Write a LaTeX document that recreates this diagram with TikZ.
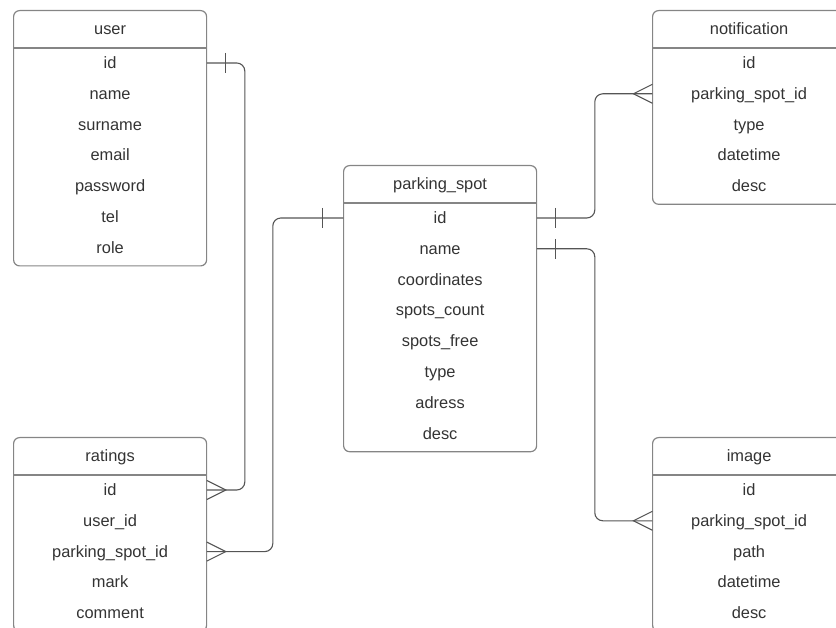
\documentclass[tikz,border=0pt]{standalone}
\usepackage{fontspec}
\setmainfont{Liberation Sans}
\usetikzlibrary{calc}
\definecolor{framegray}{HTML}{858585}
\definecolor{linkgray}{HTML}{555555}
\definecolor{textgray}{HTML}{333333}

% One entity table: name, title text, top-left x, top-left y, number of fields, fields
\newcommand\entity[6]{%
  \node[tableframe, minimum height={70.5+(#5-1)*30.8}] (#1) at (#3,#4) {};
  \node[tabletitle] (#1-title) at ($(#1.north)+(0,19.4)$) {#2};
  \draw[headerline] ([yshift=-38pt]#1.north west) -- ([yshift=-38pt]#1.north east);
  \foreach \f [count=\i] in {#6}
    \node[field] (#1-\i) at ($(#1.north)+(0,{53+(\i-1)*30.8})$) {\f};
}

\begin{document}
\begin{tikzpicture}[x=1pt,y=-1pt,
  tableframe/.style={draw=framegray, line width=1.2pt, rounded corners=6pt,
    minimum width=193pt, inner sep=0pt, anchor=north west},
  headerline/.style={draw=framegray, line width=1.2pt},
  label text/.style={font=\fontsize{16.4}{19}\selectfont, text=textgray,
    text height=11.6pt, text depth=0.5pt, inner sep=0pt},
  tabletitle/.style={label text},
  field/.style={label text, minimum width=193pt},
  rel/.style={draw=linkgray, line width=1.1pt},
  link/.style={rel, rounded corners=8pt},
  one/.pic={\draw[rel] (0,-10) -- (0,10);},
  many/.pic={\draw[rel] (0,-9.5) -- (19,0) -- (0,9.5);},
]
\useasboundingbox (0,0) rectangle (836,628);
\clip (0,0) rectangle (836,628);

\entity{user}{user}{13}{10}{7}{id,name,surname,email,password,tel,role}
\entity{ratings}{ratings}{13}{437}{5}{id,user\_id,parking\_spot\_id,mark,comment}
\entity{parking}{parking\_spot}{343}{165}{8}{id,name,coordinates,spots\_count,spots\_free,type,adress,desc}
\entity{notification}{notification}{652}{10}{5}{id,parking\_spot\_id,type,datetime,desc}
\entity{image}{image}{652}{437}{5}{id,parking\_spot\_id,path,datetime,desc}

% user 1 -- n ratings
\draw[link] (user-1.east) -- ++(38,0) |- (ratings-1.east);
\pic at ([xshift=19pt]user-1.east) {one};
\pic at (ratings-1.east) {many};

% parking_spot 1 -- n ratings
\draw[link] (ratings-3.east) -- ++(66,0) |- (parking-1.west);
\pic at (ratings-3.east) {many};
\pic at ([xshift=-21pt]parking-1.west) {one};

% parking_spot 1 -- n notification
\draw[link] (parking-1.east) -- ++(58,0) |- (notification-2.west);
\pic at ([xshift=19pt]parking-1.east) {one};
\pic[xscale=-1] at (notification-2.west) {many};

% parking_spot 1 -- n image
\draw[link] (parking-2.east) -- ++(58,0) |- (image-2.west);
\pic at ([xshift=19pt]parking-2.east) {one};
\pic[xscale=-1] at (image-2.west) {many};
\end{tikzpicture}
\end{document}
